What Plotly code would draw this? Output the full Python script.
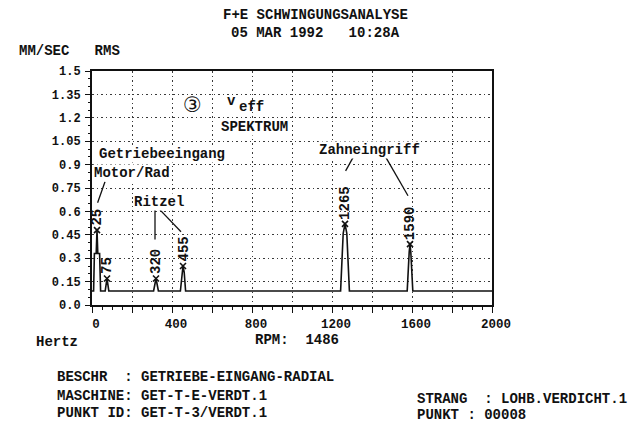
import plotly.graph_objects as go

# ---- spectrum data (velocity RMS, mm/s vs. frequency, Hz) ----
freq_hz = [0, 8, 12, 21, 25, 29, 38, 43, 66, 75, 84, 308, 320, 332,
           442, 449, 455, 461, 468, 1243, 1256, 1265, 1274, 1287,
           1576, 1586, 1590, 1594, 1604, 2000]
amp_mm_s = [0.09, 0.09, 0.33, 0.33, 0.48, 0.33, 0.33, 0.09, 0.09, 0.17, 0.09, 0.09, 0.17, 0.09,
            0.09, 0.21, 0.25, 0.21, 0.09, 0.09, 0.46, 0.52, 0.46, 0.09,
            0.09, 0.34, 0.39, 0.34, 0.09, 0.09]

# marked peaks
peak_hz = [25, 75, 320, 455, 1265, 1590]
peak_amp = [0.48, 0.17, 0.17, 0.25, 0.52, 0.39]
peak_text = ["25", "75", "320", "455", "1265", "1590"]

# axis ticks
y_tick_vals = [0.0, 0.15, 0.3, 0.45, 0.6, 0.75, 0.9, 1.05, 1.2, 1.35, 1.5]
y_tick_text = ["0.0", "0.15", "0.3", "0.45", "0.6", "0.75", "0.9", "1.05", "1.2", "1.35", "1.5"]
x_tick_vals = [0, 400, 800, 1200, 1600, 2000]
x_tick_text = ["0", "400", "800", "1200", "1600", "2000"]

# component group labels (text, left x in Hz, y in mm/s)
group_text = ["Getriebeeingang", "Motor/Rad", "Ritzel", "Zahneingriff"]
group_x = [30, 5, 205, 1130]
group_y = [0.97, 0.845, 0.66, 0.995]

# leader lines from group labels to peak labels
lead_x0 = [65, 315, 340, 1305, 1470]
lead_y0 = [0.79, 0.61, 0.61, 0.945, 0.945]
lead_x1 = [28, 315, 445, 1268, 1580]
lead_y1 = [0.655, 0.42, 0.47, 0.86, 0.70]

# page layout in pixels
W, H = 631, 423
L, R, T, B = 92, 492, 71, 305

MONO = "Liberation Mono, DejaVu Sans Mono, monospace"
INK = "#111111"
GRID = "#3a3a3a"


def paper(xp, yp):
    return (xp - L) / (R - L), (B - yp) / (B - T)


def mono(size):
    return dict(family=MONO, size=size, color=INK, weight=700)


fig = go.Figure()

fig.add_trace(go.Scatter(
    x=freq_hz, y=amp_mm_s, mode="lines",
    line=dict(color=INK, width=1.6), hoverinfo="skip", showlegend=False,
))
fig.add_trace(go.Scatter(
    x=peak_hz, y=peak_amp, mode="markers",
    marker=dict(symbol="x-thin", size=6, line=dict(color=INK, width=1.6)),
    hoverinfo="skip", showlegend=False,
))
# invisible trace carrying the fine 50 Hz tick axis
fig.add_trace(go.Scatter(
    x=[0, 2000], y=[0, 0], xaxis="x2", yaxis="y", mode="lines",
    line=dict(width=0), hoverinfo="skip", showlegend=False,
))

annotations = []

# rotated frequency labels above each peak
for hz, a, t in zip(peak_hz, peak_amp, peak_text):
    annotations.append(dict(
        x=hz, y=a, xref="x", yref="y", text=t, textangle=-90,
        showarrow=False, xanchor="center", yanchor="bottom", yshift=3,
        font=mono(14), borderpad=0,
    ))

# group labels
for t, gx, gy in zip(group_text, group_x, group_y):
    annotations.append(dict(
        x=gx, y=gy, xref="x", yref="y", text=t, showarrow=False,
        xanchor="left", yanchor="middle", font=mono(14),
        bgcolor="white", borderpad=0,
    ))

# chart heading inside the plot
for txt, xp, yp, anchor, fnt, bg in [
    ("③", 192, 105, "center", dict(family="DejaVu Sans, Noto Sans CJK JP", size=21, color=INK), None),
    ("v", 237, 101, "right", mono(14), None),
    ("eff", 238, 107, "left", mono(14), None),
    ("SPEKTRUM", 254, 127, "center", mono(14), "white"),
]:
    px_, py_ = paper(xp, yp)
    a = dict(x=px_, y=py_, xref="paper", yref="paper", text=txt, showarrow=False,
             xanchor=anchor, yanchor="middle", font=fnt, borderpad=0)
    if bg:
        a["bgcolor"] = bg
    annotations.append(a)

# page texts outside the plot
page_texts = [
    ("F+E SCHWINGUNGSANALYSE", 315, 15, "center"),
    ("05 MAR 1992   10:28A", 315, 33, "center"),
    ("MM/SEC   RMS", 17, 51, "left"),
    ("Hertz", 34, 342, "left"),
    ("RPM:  1486", 253, 340, "left"),
    ("BESCHR  : GETRIEBE-EINGANG-RADIAL", 55, 377, "left"),
    ("MASCHINE: GET-T-E-VERDT.1", 55, 396, "left"),
    ("PUNKT ID: GET-T-3/VERDT.1", 55, 413, "left"),
    ("STRANG  : LOHB.VERDICHT.1", 415, 399, "left"),
    ("PUNKT : 00008", 415, 415, "left"),
]
for txt, xp, yp, anchor in page_texts:
    px_, py_ = paper(xp, yp)
    annotations.append(dict(
        x=px_, y=py_, xref="paper", yref="paper", text=txt.replace(" ", "&nbsp;"),
        showarrow=False, xanchor=anchor, yanchor="middle", font=mono(14),
    ))

shapes = [
    dict(type="line", xref="x", yref="y", x0=x0, y0=y0, x1=x1, y1=y1,
         line=dict(color=INK, width=1.3))
    for x0, y0, x1, y1 in zip(lead_x0, lead_y0, lead_x1, lead_y1)
]

fig.update_layout(
    width=W, height=H, autosize=False,
    margin=dict(l=L, r=W - R, t=T, b=H - B, pad=0),
    paper_bgcolor="white", plot_bgcolor="white",
    annotations=annotations, shapes=shapes,
    showlegend=False,
    xaxis=dict(
        range=[0, 2000], tickmode="array", tickvals=x_tick_vals, ticktext=x_tick_text,
        ticks="outside", ticklen=6, tickwidth=1.3, tickcolor=INK,
        minor=dict(dtick=200, ticks="outside", ticklen=6, tickwidth=1.3, tickcolor=INK,
                   showgrid=True, gridcolor=GRID, gridwidth=1.2, griddash="1.5px,3px"),
        showgrid=True, gridcolor=GRID, gridwidth=1.2, griddash="1.5px,3px",
        showline=True, linecolor=INK, linewidth=2, mirror=True,
        tickfont=mono(12.5), ticklabelshift=4, zeroline=False, fixedrange=True,
    ),
    xaxis2=dict(
        overlaying="x", anchor="y", side="bottom", range=[0, 2000],
        tickmode="linear", tick0=0, dtick=50, ticks="outside", ticklen=4,
        tickwidth=1, tickcolor=INK, showticklabels=False, showgrid=False,
        zeroline=False, showline=False, fixedrange=True,
    ),
    yaxis=dict(
        range=[0, 1.5], tickmode="array", tickvals=y_tick_vals, ticktext=y_tick_text,
        ticks="outside", ticklen=5, tickwidth=1.3, tickcolor=INK,
        minor=dict(dtick=0.05, ticks="outside", ticklen=2, tickwidth=1, tickcolor=INK, showgrid=False),
        showgrid=True, gridcolor=GRID, gridwidth=1.2, griddash="1.5px,3px",
        showline=True, linecolor=INK, linewidth=2, mirror=True,
        tickfont=mono(12), ticklabelstandoff=2, zeroline=False, fixedrange=True,
    ),
)

fig.write_html("out.html", config={"displayModeBar": False})
